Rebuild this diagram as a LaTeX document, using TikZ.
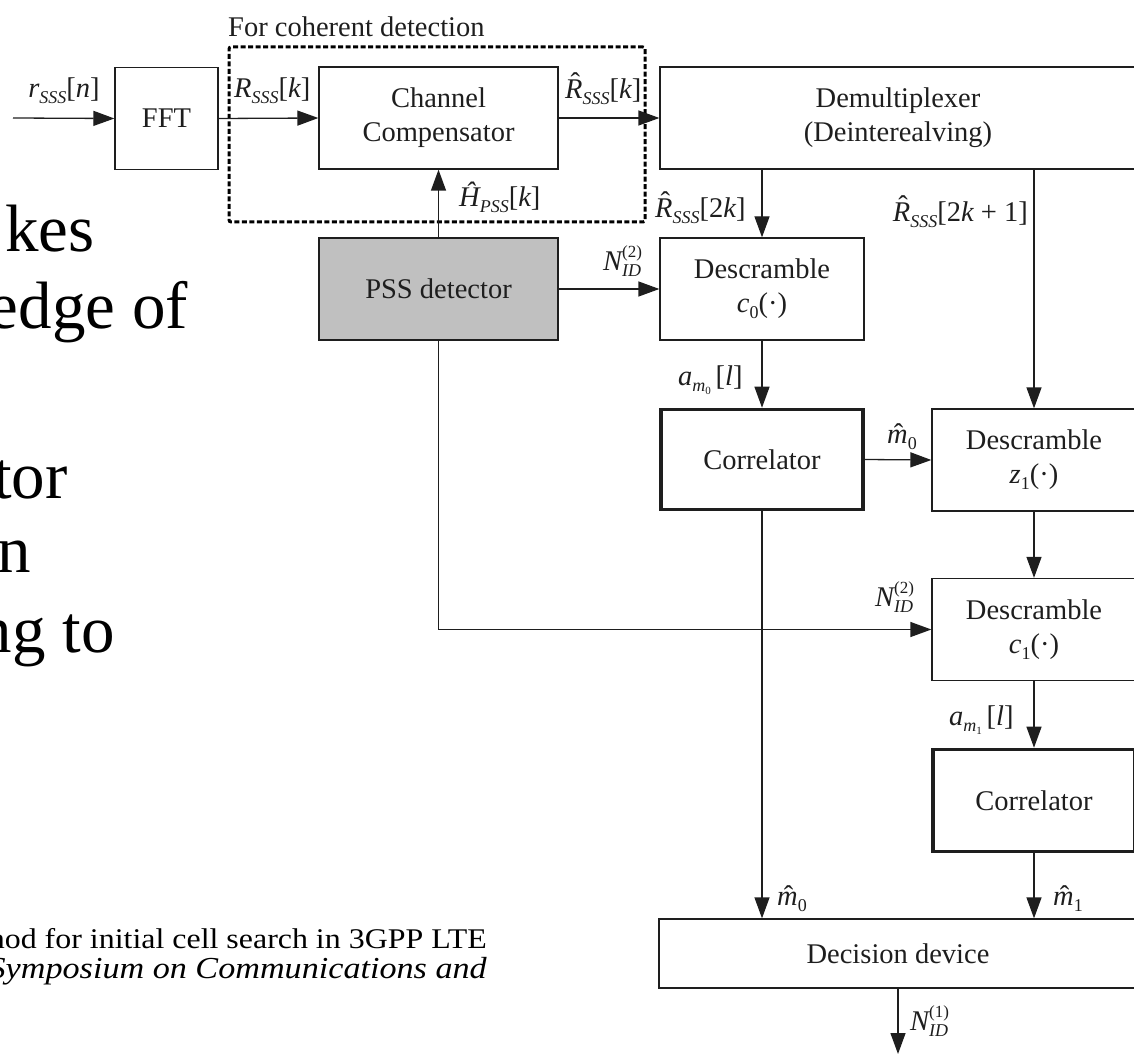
\documentclass[tikz,border=0pt]{standalone}
\usepackage{fontspec}
\setmainfont{Liberation Serif}
\newfontfamily\citefont[FakeStretch=1.12]{Liberation Serif}
\usetikzlibrary{arrows.meta}

\definecolor{ink}{HTML}{1E1E1E}
\definecolor{pssgray}{HTML}{C0C0C0}

% text sizes
\newcommand\lb{\fontsize{28.5}{34}\selectfont}
\newcommand\sbx[1]{\raisebox{-6pt}{\fontsize{18}{18}\selectfont\itshape #1}}
\newcommand\spx[1]{\raisebox{13pt}{\fontsize{17}{17}\selectfont\upshape #1}}
\newcommand\ssbx[1]{\raisebox{-3pt}{\fontsize{11}{11}\selectfont\upshape #1}}
% circumflex over a letter: [shift]{raise}{letter}
\newcommand\hatx[3][0pt]{\leavevmode\ooalign{#3\cr\hidewidth\kern#1\raisebox{#2}{ˆ}\hidewidth\cr}}

\tikzset{
  blk/.style={draw=ink, line width=1.3pt, rectangle, inner sep=0pt,
              align=center, font=\lb, text=ink},
  heavy/.style={blk, line width=3.6pt},
  arr/.style={draw=ink, line width=1.3pt, -{Triangle[length=21pt,width=15pt]}},
  lab/.style={inner sep=0pt, font=\lb, text=ink},
  coh/.style={draw=black, line width=3pt, dash pattern=on 5pt off 2.5pt,
              rounded corners=2pt, inner sep=0pt},
  slide/.style={inner sep=0pt, text=black, font=\fontsize{67}{72}\selectfont},
  cite/.style={inner sep=0pt, text=black, font=\citefont\fontsize{28.5}{30}\selectfont},
}

\begin{document}
\begin{tikzpicture}[x=1pt,y=-1pt]
\useasboundingbox (0,0) rectangle (1134,1056);
\clip (0,0) rectangle (1134,1056);

% slide text in the background
\node[slide, anchor=base east] (s1) at (95,252) {kes};
\node[slide, anchor=base east] (s2) at (188,328) {edge of};
\node[slide, anchor=base east] (s3) at (68,498) {tor};
\node[slide, anchor=base east] (s4) at (31,572) {n};
\node[slide, anchor=base east] (s5) at (115,652) {ng to};
\node[cite, anchor=base east] (c1line) at (487,948) {hod for initial cell search in 3GPP LTE};
\node[cite, anchor=base east, font=\citefont\fontsize{30.5}{32}\selectfont\itshape] (c2line) at (487,978) {Symposium on Communications and};

% coherent-detection frame
\node[coh, minimum width=416pt, minimum height=175pt] (cohbox) at (437,134.5) {};
\node[lab, anchor=base west] (cohlbl) at (228,37) {For coherent detection};

% blocks
\node[blk, minimum width=103pt, minimum height=102pt] (fft) at (166.5,118.5) {FFT};
\node[blk, minimum width=239pt, minimum height=102pt] (cc) at (438.5,118) {Channel\\Compensator};
\node[blk, minimum width=476pt, minimum height=102pt] (demux) at (898,118) {Demultiplexer\\(Deinterealving)};
\node[blk, fill=pssgray, minimum width=239pt, minimum height=102pt] (pss) at (438.5,289) {PSS detector};
\node[blk, minimum width=204pt, minimum height=102pt] (dc0) at (762,289) {Descramble\\{\itshape c}\sbx{\upshape 0}(·)};
\node[heavy, minimum width=202pt, minimum height=100pt] (cor0) at (762,459.5) {Correlator};
\node[blk, minimum width=204pt, minimum height=102pt] (dz1) at (1034,460) {Descramble\\{\itshape z}\sbx{\upshape 1}(·)};
\node[blk, minimum width=204pt, minimum height=102pt] (dc1) at (1034,629.5) {Descramble\\{\itshape c}\sbx{\upshape 1}(·)};
\node[heavy, minimum width=202pt, minimum height=102pt] (cor1) at (1034,800.5) {Correlator};
\node[blk, minimum width=478pt, minimum height=69pt] (dec) at (898,953.5) {Decision device};

% free ends
\coordinate (src) at (13,118);
\coordinate (sink) at (898,1054);

% connectors
\draw[arr] (src) -- (fft.west);
\draw[arr] (fft.east) -- (cc.west);
\draw[arr] (cc.east) -- (demux.west);
\draw[arr] (pss.north) -- (cc.south);
\draw[arr] (pss.east) -- (dc0.west);
\draw[arr] (demux.south -| dc0.north) -- (dc0.north);
\draw[arr] (demux.south -| dz1.north) -- (dz1.north);
\draw[arr] (dc0.south) -- (cor0.north);
\draw[arr] (cor0.east) -- (dz1.west);
\draw[arr] (dz1.south) -- (dc1.north);
\draw[arr] (pss.south) |- (dc1.west);
\draw[arr] (dc1.south) -- (cor1.north);
\draw[arr] (cor0.south) -- (cor0.south |- dec.north);
\draw[arr] (cor1.south) -- (cor1.south |- dec.north);
\draw[arr] (dec.south) -- (sink);

% signal labels
\node[lab, anchor=base] (l1) at (64,98) {{\itshape r}\sbx{SSS}[{\itshape n}]};
\node[lab, anchor=base west] (l2) at (234,98) {{\itshape R}\sbx{SSS}[{\itshape k}]};
\node[lab, anchor=base west] (l3) at (565,99) {\hatx[3pt]{6.5pt}{\itshape R}\sbx{SSS}[{\itshape k}]};
\node[lab, anchor=base west] (l4) at (459,207) {{\itshape Ĥ}\sbx{PSS}[{\itshape k}]};
\node[lab, anchor=base west] (l5) at (655,218) {\hatx[3pt]{6.5pt}{\itshape R}\sbx{SSS}[2{\itshape k}]};
\node[lab, anchor=base east] (l6) at (1028,222) {\hatx[3pt]{6.5pt}{\itshape R}\sbx{SSS}[2{\itshape k} + 1]};
\node[lab, anchor=base west] (l7) at (603,271) {{\itshape N}\rlap{\spx{(2)}}\sbx{ID}};
\node[lab, anchor=base west] (l8) at (678,385) {{\itshape a}\sbx{m\ssbx{0}}\,[{\itshape l}]};
\node[lab, anchor=base west] (l9) at (887,443) {\hatx[2pt]{0pt}{\itshape m}\sbx{\upshape 0}};
\node[lab, anchor=base west] (l10) at (875,606) {{\itshape N}\rlap{\spx{(2)}}\sbx{ID}};
\node[lab, anchor=base west] (l11) at (949,725) {{\itshape a}\sbx{m\ssbx{1}}\,[{\itshape l}]};
\node[lab, anchor=base west] (l12) at (777,905) {\hatx[2pt]{0pt}{\itshape m}\sbx{\upshape 0}};
\node[lab, anchor=base west] (l13) at (1053,905) {\hatx[2pt]{0pt}{\itshape m}\sbx{\upshape 1}};
\node[lab, anchor=base west] (l14) at (910,1030) {{\itshape N}\rlap{\spx{(1)}}\sbx{ID}};
\end{tikzpicture}
\end{document}
